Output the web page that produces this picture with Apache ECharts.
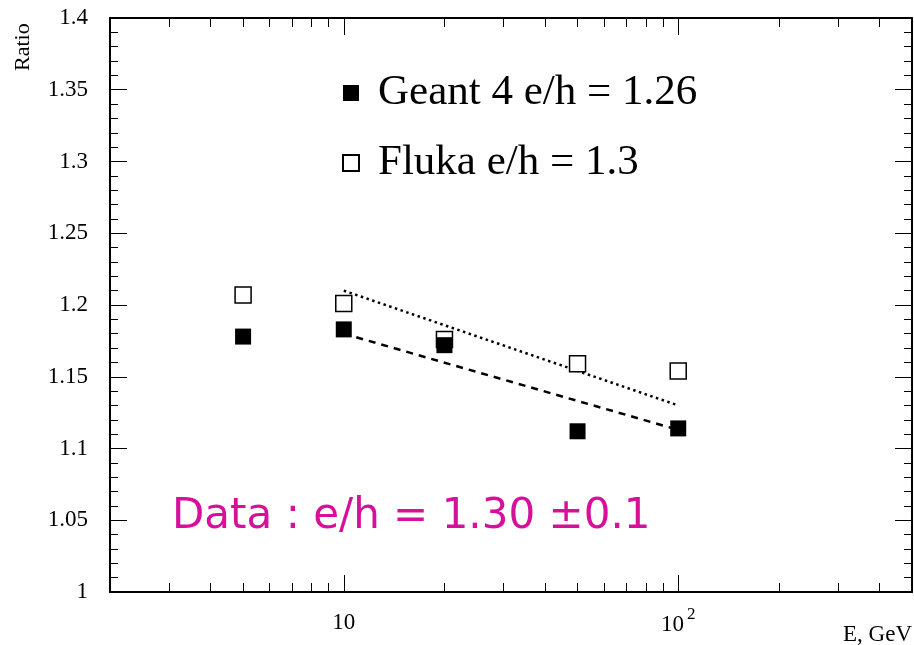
<!DOCTYPE html>
<html>
<head>
<meta charset="utf-8">
<script src="https://cdn.jsdelivr.net/npm/echarts@6/dist/echarts.min.js"></script>
<style>
  html, body { margin: 0; padding: 0; background: #fff; }
  #chart { width: 914px; height: 645px; }
</style>
</head>
<body>
<div id="chart"></div>
<script>
// energies, GeV
const energies = [5, 10, 20, 50, 100];
const geant4Ratio = [1.178, 1.183, 1.172, 1.112, 1.114];
const flukaRatio = [1.207, 1.201, 1.176, 1.159, 1.154];
// fit lines (endpoints at 10 and 100 GeV)
const fitEnergies = [10, 100];
const geant4Fit = [1.18, 1.113];
const flukaFit = [1.21, 1.13];

const xMajorTicks = [10, 100];
const xMinorTicks = [3, 4, 5, 6, 7, 8, 9, 20, 30, 40, 50, 60, 70, 80, 90, 200, 300, 400];
const xLabels = [10, 100];

const serif = "'Liberation Serif', 'Times New Roman', serif";
const black = '#000';

const chart = echarts.init(document.getElementById('chart'));

function pairs(xs, ys) {
  return xs.map((x, i) => [x, ys[i]]);
}

function xAxisDef(pos, ticks, len, showLine, showLabel) {
  return {
    type: 'log',
    logBase: 10,
    position: pos,
    min: 2,
    max: 500,
    axisLine: { show: showLine, onZero: false, lineStyle: { color: black, width: 2 } },
    axisTick: { show: true, inside: true, length: len, customValues: ticks, lineStyle: { color: black, width: 1 } },
    axisLabel: {
      show: showLabel,
      customValues: xLabels,
      margin: 14,
      color: black,
      fontFamily: serif,
      fontSize: 23,
      formatter: function (v) {
        const r = Math.round(v);
        if (r === 100) return '{n|10}{s|2}';
        return '{n|' + r + '}';
      },
      rich: {
        n: { fontFamily: serif, fontSize: 23, color: black, lineHeight: 28, verticalAlign: 'bottom' },
        s: { fontFamily: serif, fontSize: 17, color: black, lineHeight: 30, verticalAlign: 'top', padding: [0, 0, 4, 3] }
      }
    },
    splitLine: { show: false },
    minorTick: { show: false }
  };
}

function yAxisDef(pos, showLabel) {
  return {
    type: 'value',
    position: pos,
    min: 1,
    max: 1.4,
    interval: 0.05,
    axisLine: { show: true, lineStyle: { color: black, width: 2 } },
    axisTick: { show: true, inside: true, length: 17, lineStyle: { color: black, width: 1 } },
    minorTick: { show: true, splitNumber: 5, length: 8, lineStyle: { color: black, width: 1 } },
    axisLabel: {
      show: showLabel,
      margin: 22,
      color: black,
      fontFamily: serif,
      fontSize: 23
    },
    splitLine: { show: false },
    minorSplitLine: { show: false }
  };
}

const option = {
  backgroundColor: '#fff',
  animation: false,
  grid: { left: 110, right: 2, top: 18, bottom: 53, containLabel: false },
  xAxis: [
    xAxisDef('bottom', xMajorTicks, 17, true, true),
    xAxisDef('bottom', xMinorTicks, 9, false, false),
    xAxisDef('top', xMajorTicks, 17, true, false),
    xAxisDef('top', xMinorTicks, 9, false, false)
  ],
  yAxis: [
    yAxisDef('left', true),
    yAxisDef('right', false)
  ],
  legend: {
    data: ['Geant 4 e/h = 1.26', 'Fluka e/h = 1.3'],
    orient: 'vertical',
    left: 337,
    top: 65,
    itemWidth: 16,
    itemHeight: 16,
    itemGap: 24,
    selectedMode: false,
    textStyle: {
      fontFamily: serif,
      fontSize: 43,
      color: black,
      lineHeight: 46,
      padding: [0, 0, 0, 14]
    }
  },
  graphic: [
    {
      type: 'text',
      x: 12,
      y: 71,
      rotation: Math.PI / 2,
      style: { text: 'Ratio', fontFamily: serif, fontSize: 22, fill: black, align: 'left', verticalAlign: 'top' }
    },
    {
      type: 'text',
      right: 2,
      top: 623,
      style: { text: 'E, GeV', fontFamily: serif, fontSize: 23, fill: black }
    },
    {
      type: 'text',
      left: 172,
      top: 496,
      style: {
        text: 'Data : e/h = 1.30 \u00b10.1',
        fontFamily: "'Comic Sans MS', 'DejaVu Sans', sans-serif",
        fontSize: 42,
        fill: '#d6109a'
      }
    }
  ],
  series: [
    {
      name: 'Fluka fit',
      type: 'line',
      data: pairs(fitEnergies, flukaFit),
      showSymbol: false,
      lineStyle: { color: black, width: 2.5, type: [2.5, 3.5] },
      z: 1
    },
    {
      name: 'Geant 4 fit',
      type: 'line',
      data: pairs(fitEnergies, geant4Fit),
      showSymbol: false,
      lineStyle: { color: black, width: 2.5, type: [7, 6] },
      z: 1
    },
    {
      name: 'Fluka e/h = 1.3',
      type: 'scatter',
      symbol: 'rect',
      symbolSize: 16,
      data: pairs(energies, flukaRatio),
      itemStyle: { color: '#fff', borderColor: black, borderWidth: 1.5, opacity: 1 },
      z: 3
    },
    {
      name: 'Geant 4 e/h = 1.26',
      type: 'scatter',
      symbol: 'rect',
      symbolSize: 16,
      data: pairs(energies, geant4Ratio),
      itemStyle: { color: black, opacity: 1 },
      z: 4
    }
  ]
};

chart.setOption(option);
</script>
</body>
</html>
